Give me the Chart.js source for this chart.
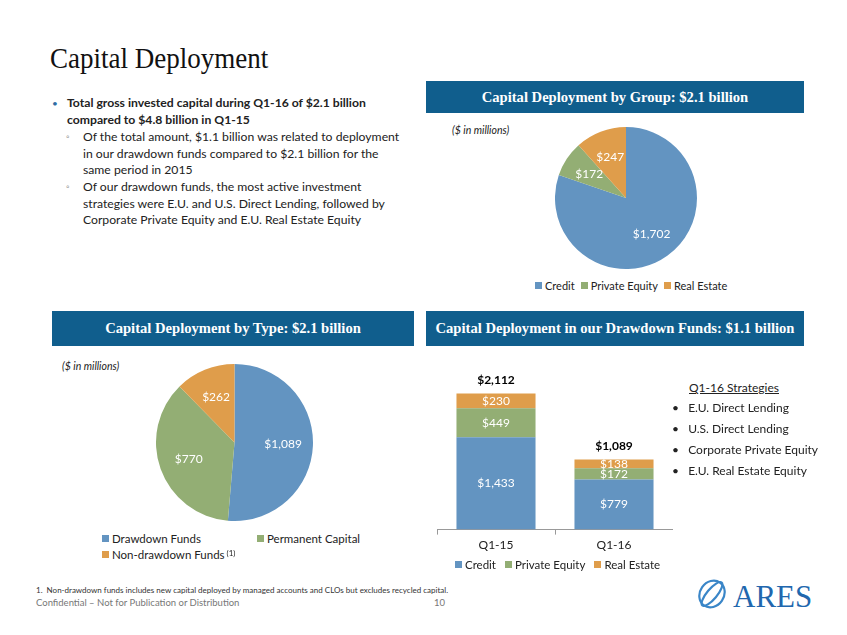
<!DOCTYPE html>
<html><head><meta charset="utf-8">
<script src="https://cdn.jsdelivr.net/npm/chart.js@4"></script>
<style>
html,body{margin:0;padding:0;background:#fff;}
#slide{position:relative;width:847px;height:635px;overflow:hidden;font-family:Lato,"Open Sans",sans-serif;color:#222;}
.abs{position:absolute;white-space:nowrap;}
.title{left:50px;top:41px;font-family:"Liberation Serif",serif;font-size:30px;color:#111;transform:scaleX(0.9);transform-origin:0 0;}
.hdr{position:absolute;background:#105E8D;color:#fff;font-family:"Liberation Serif",serif;font-weight:bold;font-size:14.6px;display:flex;align-items:center;justify-content:center;}
.body{font-size:12.2px;line-height:16.5px;}
.units{font-style:italic;font-size:10.5px;color:#222;}
.leg{position:absolute;display:flex;font-size:11px;color:#222;white-space:nowrap;}
.leg span.sq{display:inline-block;width:7px;height:7px;margin-right:3px;}
.leg .it{display:flex;align-items:center;}
canvas{position:absolute;}
</style></head>
<body><div id="slide">
<div class="abs title">Capital Deployment</div>

<div class="abs body" style="left:52px;top:95px;color:#2E6DA4;font-size:10px;">•</div>
<div class="abs body" style="left:67px;top:95px;font-weight:bold;">Total gross invested capital during Q1-16 of $2.1 billion<br>compared to $4.8 billion in Q1-15</div>
<div class="abs body" style="left:66px;top:129px;color:#999;font-size:9px;">◦</div>
<div class="abs body" style="left:83px;top:129px;">Of the total amount, $1.1 billion was related to deployment<br>in our drawdown funds compared to $2.1 billion for the<br>same period in 2015</div>
<div class="abs body" style="left:66px;top:179px;color:#999;font-size:9px;">◦</div>
<div class="abs body" style="left:83px;top:179px;">Of our drawdown funds, the most active investment<br>strategies were E.U. and U.S. Direct Lending, followed by<br>Corporate Private Equity and E.U. Real Estate Equity</div>

<div class="hdr" style="left:426px;top:81px;width:378px;height:32px;">Capital Deployment by Group: $2.1 billion</div>
<div class="hdr" style="left:52px;top:311px;width:362px;height:35px;">Capital Deployment by Type: $2.1 billion</div>
<div class="hdr" style="left:426px;top:311px;width:378px;height:35px;">Capital Deployment in our Drawdown Funds: $1.1 billion</div>

<div class="abs units" style="left:452px;top:124px;">($ in millions)</div>
<div class="abs units" style="left:62px;top:360px;">($ in millions)</div>

<canvas id="groupPie" width="142" height="142" style="left:555px;top:127px;"></canvas>
<canvas id="typePie" width="157" height="157" style="left:156px;top:364px;"></canvas>
<canvas id="barChart" width="236" height="205" style="left:437px;top:350px;"></canvas>

<div id="legGroup" class="leg" style="left:535px;top:279px;gap:6px;"></div>
<div id="legType" class="leg" style="left:102px;top:532px;display:grid;grid-template-columns:155px auto;row-gap:3px;font-size:11.5px;"></div>
<div id="legBar" class="leg" style="left:455px;top:558px;gap:9px;font-size:11.5px;"></div>

<div class="abs" style="left:689px;top:380px;font-size:12px;text-decoration:underline;">Q1-16 Strategies</div>
<div class="abs" style="left:672px;top:397px;font-size:12px;line-height:21px;">
•&nbsp;&nbsp;&nbsp;E.U. Direct Lending<br>•&nbsp;&nbsp;&nbsp;U.S. Direct Lending<br>•&nbsp;&nbsp;&nbsp;Corporate Private Equity<br>•&nbsp;&nbsp;&nbsp;E.U. Real Estate Equity</div>

<div class="abs" style="left:36px;top:585px;font-size:8px;color:#333;">1.&nbsp;&nbsp;Non-drawdown funds includes new capital deployed by managed accounts and CLOs but excludes recycled capital.</div>
<div class="abs" style="left:36px;top:597px;font-size:9.5px;color:#777;">Confidential – Not for Publication or Distribution</div>
<div class="abs" style="left:434px;top:597px;font-size:9.5px;color:#777;">10</div>

<svg class="abs" style="left:698px;top:574px;" width="140" height="40" viewBox="0 0 140 40">
  <g fill="none" stroke="#3A86C8" stroke-width="2.2">
    <ellipse cx="14" cy="20" rx="12" ry="14" transform="rotate(35 14 20)"/>
    <ellipse cx="14" cy="20" rx="5" ry="15" transform="rotate(40 14 20)"/>
  </g>
  <text x="35" y="33" font-family="Liberation Serif,serif" font-size="31" fill="#2167AE">ARES</text>
</svg>
</div>

<script>
// ---- data ----
const groupLabels = ['Credit', 'Private Equity', 'Real Estate'];
const groupValues = [1702, 172, 247];

const typeLabels = ['Drawdown Funds', 'Permanent Capital', 'Non-drawdown Funds'];
const typeValues = [1089, 770, 262];

const quarters = ['Q1-15', 'Q1-16'];
const creditValues = [1433, 779];
const privateEquityValues = [449, 172];
const realEstateValues = [230, 138];
const quarterTotals = [2112, 1089];

// ---- styles ----
const COLORS = ['#6394C1', '#93AE74', '#DF9D4B'];
const LABEL_FONT = '12px Lato, "Open Sans", sans-serif';

function money(v){ return '$' + v.toLocaleString('en-US'); }

const valueLabels = {
  id: 'valueLabels',
  afterDatasetsDraw(chart, args, opts) {
    const ctx = chart.ctx;
    ctx.save();
    ctx.textAlign = 'center';
    ctx.textBaseline = 'middle';
    chart.data.datasets.forEach((ds, di) => {
      const meta = chart.getDatasetMeta(di);
      meta.data.forEach((el, i) => {
        let x, y;
        if (meta.type === 'pie') {
          const p = el.getProps(['startAngle', 'endAngle', 'outerRadius', 'x', 'y'], true);
          const mid = (p.startAngle + p.endAngle) / 2;
          const r = p.outerRadius * opts.radiusFactor;
          x = p.x + Math.cos(mid) * r;
          y = p.y + Math.sin(mid) * r;
        } else {
          const p = el.getProps(['x', 'y', 'base'], true);
          x = p.x; y = (p.y + p.base) / 2;
        }
        ctx.font = LABEL_FONT;
        ctx.fillStyle = '#fff';
        ctx.fillText(money(ds.data[i]), x, y);
      });
    });
    if (opts.totals) {
      const last = chart.getDatasetMeta(chart.data.datasets.length - 1);
      last.data.forEach((el, i) => {
        ctx.font = 'bold 12px Lato, "Open Sans", sans-serif';
        ctx.fillStyle = '#000';
        ctx.fillText(money(opts.totals[i]), el.x, el.y - 13);
      });
    }
    ctx.restore();
  }
};

function pie(id, labels, values) {
  return new Chart(document.getElementById(id), {
    type: 'pie',
    data: { labels, datasets: [{ data: values, backgroundColor: COLORS, borderWidth: 0, hoverOffset: 0 }] },
    options: {
      responsive: false, animation: false,
      layout: { padding: 0 },
      plugins: { legend: { display: false }, tooltip: { enabled: false }, valueLabels: { radiusFactor: 0.62 } }
    },
    plugins: [valueLabels]
  });
}
pie('groupPie', groupLabels, groupValues);
pie('typePie', typeLabels, typeValues);

new Chart(document.getElementById('barChart'), {
  type: 'bar',
  data: {
    labels: quarters,
    datasets: [
      { label: 'Credit', data: creditValues, backgroundColor: COLORS[0] },
      { label: 'Private Equity', data: privateEquityValues, backgroundColor: COLORS[1] },
      { label: 'Real Estate', data: realEstateValues, backgroundColor: COLORS[2] }
    ]
  },
  options: {
    responsive: false, animation: false,
    layout: { padding: { top: 25, left: 0, right: 0, bottom: 0 } },
    datasets: { bar: { categoryPercentage: 0.67, barPercentage: 1, borderWidth: 0 } },
    scales: {
      x: {
        stacked: true,
        grid: { display: true, offset: true, drawOnChartArea: false, drawTicks: true, tickLength: 5, color: '#999' },
        border: { display: true, color: '#999' },
        ticks: { color: '#222', font: { family: 'Lato', size: 12 }, padding: 3 }
      },
      y: { stacked: true, display: false, min: 0, max: 2400 }
    },
    plugins: { legend: { display: false }, tooltip: { enabled: false }, valueLabels: { totals: quarterTotals } }
  },
  plugins: [valueLabels]
});

// ---- HTML legends ----
function legend(id, labels, suffix) {
  const el = document.getElementById(id);
  labels.forEach((l, i) => {
    const it = document.createElement('div');
    it.className = 'it';
    it.innerHTML = '<span class="sq" style="background:' + COLORS[i] + '"></span>' + l + (suffix && suffix[i] ? suffix[i] : '');
    el.appendChild(it);
  });
}
legend('legGroup', groupLabels);
legend('legType', typeLabels, [null, null, '<sup style="font-size:8px;margin-left:2px;position:relative;top:-2px;">(1)</sup>']);
legend('legBar', ['Credit', 'Private Equity', 'Real Estate']);
</script>
</body></html>
